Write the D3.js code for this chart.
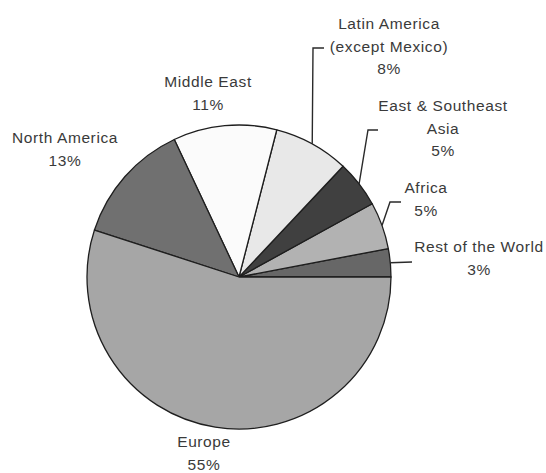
<!DOCTYPE html>
<html>
<head>
<meta charset="utf-8">
<script src="https://cdn.jsdelivr.net/npm/d3@7/dist/d3.min.js"></script>
<style>
  html, body { margin: 0; padding: 0; background: #fff; }
  svg { display: block; }
  .lbl { font-family: "Liberation Sans", Arial, sans-serif; font-size: 15.5px; letter-spacing: 0.6px; fill: #3a3a3a; }
</style>
</head>
<body>
<svg id="chart" width="546" height="473"></svg>
<script>
// Regions, in drawing order counter-clockwise from 3 o'clock
const regions = ["Rest of the World", "Africa", "East & Southeast Asia", "Latin America (except Mexico)", "Middle East", "North America", "Europe"];
const shares = [3, 5, 5, 8, 11, 13, 55];
const labelLines = [
  ["Rest of the World", "3%"],
  ["Africa", "5%"],
  ["East & Southeast", "Asia", "5%"],
  ["Latin America", "(except Mexico)", "8%"],
  ["Middle East", "11%"],
  ["North America", "13%"],
  ["Europe", "55%"]
];
const fills = ["#676767", "#b2b2b2", "#404040", "#e8e8e8", "#fbfbfb", "#707070", "#a6a6a6"];

// Label placement: text centre x, first baseline y, and elbow leader points (null = none)
const labelLayout = [
  { x: 479, y: 252, leader: [[412, 262]] },
  { x: 426, y: 193, leader: [[390, 202], [401, 202]] },
  { x: 443, y: 111, leader: [[368, 130], [378, 130]] },
  { x: 389, y: 29,  leader: [[313, 48], [324, 48]] },
  { x: 208, y: 87,  leader: null },
  { x: 65,  y: 143, leader: null },
  { x: 204, y: 447, leader: null }
];
const lineStep = 22.5;

const cx = 239, cy = 277, radius = 152;
const svg = d3.select("#chart");
const g = svg.append("g").attr("transform", `translate(${cx},${cy})`);

const pie = d3.pie()
  .value(d => d.share)
  .sort(null)
  .startAngle(Math.PI / 2)
  .endAngle(Math.PI / 2 - 2 * Math.PI);

const data = regions.map((r, i) => ({ region: r, share: shares[i], fill: fills[i], lines: labelLines[i], layout: labelLayout[i] }));
const arcs = pie(data);
const arc = d3.arc().innerRadius(0).outerRadius(radius);

g.selectAll("path.slice")
  .data(arcs)
  .join("path")
  .attr("class", "slice")
  .attr("d", arc)
  .attr("fill", d => d.data.fill)
  .attr("stroke", "#1e1e1e")
  .attr("stroke-width", 1.3)
  .attr("stroke-linejoin", "round");

// Leader lines start on the rim at each slice's mid angle
const line = d3.line();
arcs.forEach(d => {
  const lay = d.data.layout;
  if (!lay.leader) return;
  const mid = (d.startAngle + d.endAngle) / 2;
  const start = [cx + radius * Math.sin(mid), cy - radius * Math.cos(mid)];
  svg.append("path")
    .attr("d", line([start, ...lay.leader]))
    .attr("fill", "none")
    .attr("stroke", "#2a2a2a")
    .attr("stroke-width", 1.4);
});

// Labels
arcs.forEach(d => {
  const lay = d.data.layout;
  const t = svg.append("text")
    .attr("class", "lbl")
    .attr("text-anchor", "middle");
  d.data.lines.forEach((s, k) => {
    t.append("tspan")
      .attr("x", lay.x)
      .attr("y", lay.y + k * lineStep)
      .text(s);
  });
});
</script>
</body>
</html>
